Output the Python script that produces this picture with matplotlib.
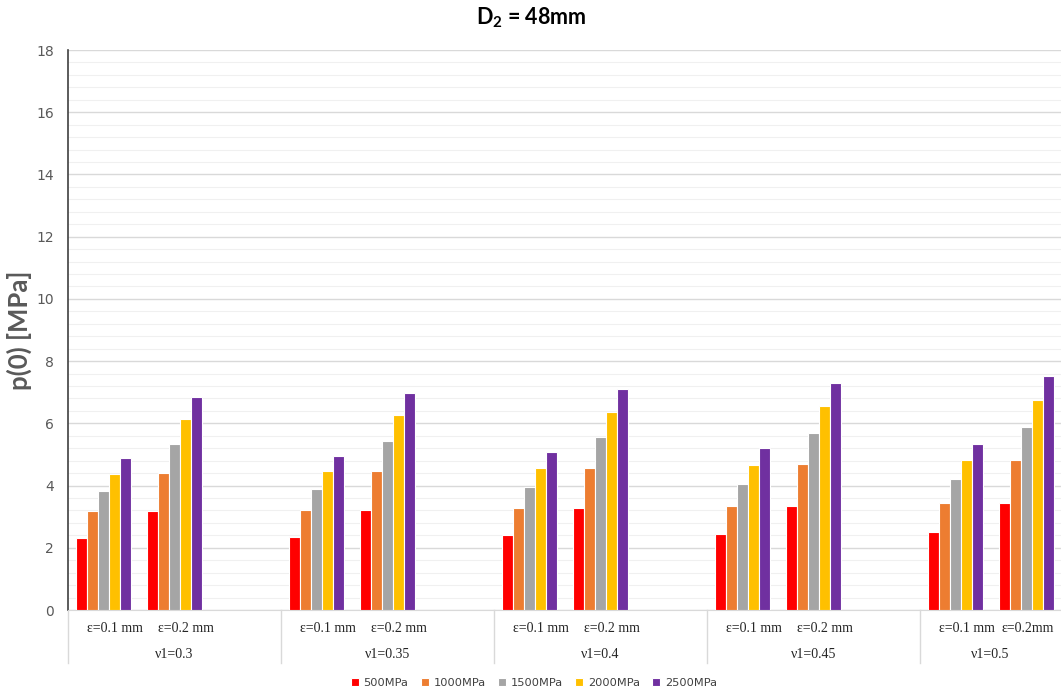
import matplotlib
matplotlib.use('Agg')
import matplotlib.pyplot as plt
import matplotlib.transforms as mtransforms
import numpy as np

# data
groups = ['ν1=0.3', 'ν1=0.35', 'ν1=0.4', 'ν1=0.45', 'ν1=0.5']
eps_labels = ['ε=0.1 mm', 'ε=0.2 mm']
series = ['500MPa', '1000MPa', '1500MPa', '2000MPa', '2500MPa']
colors = ['#FF0000', '#ED7D31', '#A5A5A5', '#FFC000', '#7030A0']

# values per series, ordered (group, eps): g1e1, g1e2, g2e1, g2e2, ...
p500 = [2.33, 3.17, 2.35, 3.21, 2.40, 3.28, 2.44, 3.34, 2.52, 3.45]
p1000 = [3.17, 4.39, 3.21, 4.47, 3.28, 4.57, 3.34, 4.68, 3.45, 4.83]
p1500 = [3.83, 5.35, 3.89, 5.44, 3.96, 5.55, 4.06, 5.70, 4.20, 5.87]
p2000 = [4.37, 6.14, 4.46, 6.26, 4.55, 6.37, 4.66, 6.56, 4.81, 6.75]
p2500 = [4.88, 6.84, 4.95, 6.97, 5.07, 7.10, 5.20, 7.30, 5.34, 7.52]
values = [p500, p1000, p1500, p2000, p2500]

W, H = 1061, 693
fig = plt.figure(figsize=(W / 100, H / 100), dpi=100)
ax = fig.add_axes([68 / W, (H - 610) / H, (W - 68) / W, 560 / H])

# 3 slots per group, the third one stays empty
pos = []
for g in range(len(groups)):
    pos += [3 * g, 3 * g + 1]
pos = np.array(pos, dtype=float)

bw = 0.155
for i, (name, vals, c) in enumerate(zip(series, values, colors)):
    ax.bar(pos + (i - 2) * bw, vals, width=bw, color=c, edgecolor='white',
           linewidth=0.8, label=name, zorder=3)

cat_w = 71.0
ax.set_xlim(-0.5, -0.5 + (W - 68) / cat_w)
ax.set_ylim(0, 18)
ax.set_yticks(np.arange(0, 19, 2))
ax.set_yticks(np.arange(0, 18.01, 0.4), minor=True)
ax.grid(axis='y', which='major', color='#d9d9d9', linewidth=1.0, zorder=0)
ax.grid(axis='y', which='minor', color='#f0f0f0', linewidth=0.8, zorder=0)
ax.tick_params(axis='y', which='both', length=0, labelsize=10,
               labelcolor='#595959', pad=10)
ax.tick_params(axis='y', which='minor', labelleft=False)
ax.set_xticks([])
for s in ['top', 'right']:
    ax.spines[s].set_visible(False)
ax.spines['left'].set_color('#404040')
ax.spines['left'].set_linewidth(1.2)
ax.spines['bottom'].set_color('#d9d9d9')

ax.set_ylabel('p(0) [MPa]', fontsize=18.5, fontweight='bold', color='#595959',
              family='Lato', labelpad=3)

# two-level category axis
trans = mtransforms.blended_transform_factory(ax.transData, ax.transAxes)
cat_text = eps_labels * len(groups)
cat_text[-1] = 'ε=0.2mm'  # last one is squeezed against the right edge
offsets = [0.16] * len(cat_text)
offsets[-1] = 0.02
for x, lab, off in zip(pos, cat_text, offsets):
    ax.text(x + off, -19 / 560, lab, transform=trans, ha='center', va='center',
            family='Liberation Serif', fontsize=10, color='#262626')
xmax = ax.get_xlim()[1]
for g, lab in enumerate(groups):
    left = 3 * g - 0.5
    right = min(3 * g + 2.5, xmax)
    ax.text((left + right) / 2, -45 / 560, lab, transform=trans, ha='center',
            va='center', family='Liberation Serif', fontsize=10, color='#262626')
    ax.plot([left, left], [0, -53 / 560], transform=trans, color='#d9d9d9',
            linewidth=1, clip_on=False)

plt.rcParams['mathtext.fontset'] = 'custom'
plt.rcParams['mathtext.bf'] = 'Lato:bold'
plt.rcParams['mathtext.rm'] = 'Lato'
fig.text(531 / W, 1 - 18 / H, r'$\mathbf{D_2}$ = 48mm', ha='center', va='center',
         fontsize=15.5, fontweight='bold', family='Lato', color='#000000')

fig.legend(loc='center', bbox_to_anchor=(534 / W, 1 - 683 / H), ncol=5,
           frameon=False, fontsize=8.2, handlelength=0.7, handleheight=0.7,
           handletextpad=0.4, columnspacing=1.1, labelcolor='#404040')

fig.savefig('out.png', dpi=100)
